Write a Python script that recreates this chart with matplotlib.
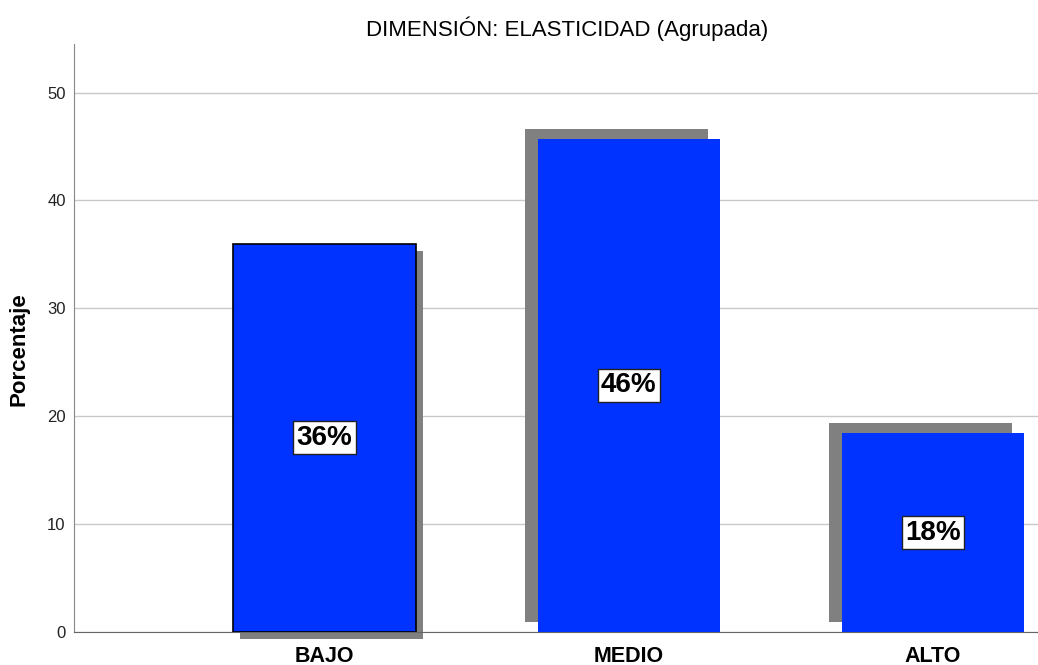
import matplotlib.pyplot as plt

plt.rcParams['font.family'] = ['Liberation Sans', 'DejaVu Sans']

# datos de la dimensión elasticidad (porcentaje por nivel)
niveles = ['BAJO', 'MEDIO', 'ALTO']
porcentajes = [36.0, 45.7, 18.4]
etiquetas = ['%d%%' % round(p) for p in porcentajes]

titulo = 'DIMENSIÓN: ELASTICIDAD (Agrupada)'
eje_y = 'Porcentaje'

posiciones = list(range(len(niveles)))

fig = plt.figure(figsize=(10.38, 6.65), dpi=100)
ax = fig.add_axes([74 / 1038, 33 / 665, 1 - 74 / 1038, (632 - 44) / 665])

# sombras grises detrás de cada barra
sombra_dx = [0.023, -0.040, -0.042]
sombra_dy = [-0.65, 0.93, 0.93]
for x, p, dx, dy in zip(posiciones, porcentajes, sombra_dx, sombra_dy):
    ax.bar(x + dx, p, width=0.6, bottom=dy, color='#808080', zorder=2, clip_on=False)

# barras principales
bordes = ['black', 'none', 'none']
for x, p, b in zip(posiciones, porcentajes, bordes):
    ax.bar(x, p, width=0.6, color='#0033ff', edgecolor=b, linewidth=1.2, zorder=3)

# etiquetas de porcentaje en el centro de la barra
for x, p, txt in zip(posiciones, porcentajes, etiquetas):
    ax.text(x, p / 2, txt, ha='center', va='center', fontsize=20, fontweight='bold', zorder=4,
            bbox=dict(boxstyle='square,pad=0.12', facecolor='white', edgecolor='#222222', linewidth=1))

ax.set_xlim(-0.824, 2.345)
ax.set_ylim(0, 54.5)
ax.set_yticks([0, 10, 20, 30, 40, 50])
ax.set_xticks(posiciones)
ax.set_xticklabels(niveles, fontweight='bold')
ax.tick_params(axis='y', length=0, pad=6, labelsize=12, labelcolor='#222222')
ax.tick_params(axis='x', length=0, pad=10, labelsize=15.5)
ax.yaxis.grid(True, color='#c8c8c8', linewidth=1, zorder=0)
ax.set_axisbelow(True)

for lado in ['top', 'right']:
    ax.spines[lado].set_visible(False)
ax.spines['left'].set_color('#888888')
ax.spines['bottom'].set_color('#666666')

fig.text(19 / 1038, 1 - 349 / 665, eje_y, ha='center', va='center', rotation=90,
         fontsize=16, fontweight='bold')
fig.text(567 / 1038, 1 - 29 / 665, titulo, ha='center', va='center', fontsize=16)

plt.savefig('out.png', dpi=100)
